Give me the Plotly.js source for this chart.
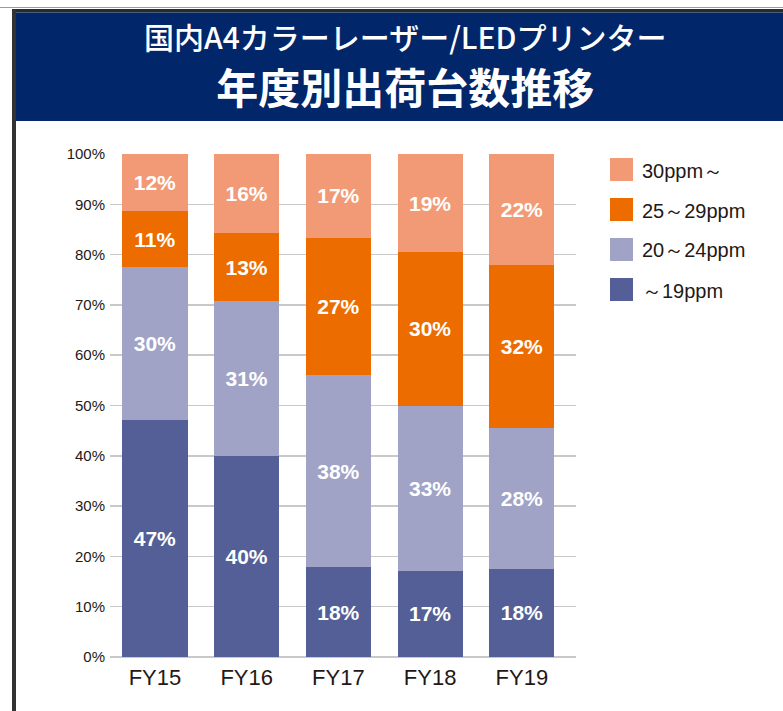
<!DOCTYPE html>
<html>
<head>
<meta charset="utf-8">
<script src="https://cdn.plot.ly/plotly-3.0.1.min.js"></script>
<style>
  html, body { margin: 0; padding: 0; background: #ffffff; }
  #chart { width: 783px; height: 711px; }
</style>
</head>
<body>
<div id="chart"></div>
<script>
// ---- data ----
const years = ["FY15", "FY16", "FY17", "FY18", "FY19"];
const seriesNames = ["～19ppm", "20～24ppm", "25～29ppm", "30ppm～"];
// segment shares (%)
const under19   = [47.1, 39.9, 17.8, 17.1, 17.5];
const r20to24   = [30.4, 30.9, 38.2, 32.9, 28.1];
const r25to29   = [11.2, 13.4, 27.4, 30.5, 32.3];
const over30    = [11.3, 15.8, 16.6, 19.5, 22.1];
// printed labels (%)
const under19Labels = [47, 40, 18, 17, 18];
const r20to24Labels = [30, 31, 38, 33, 28];
const r25to29Labels = [11, 13, 27, 30, 32];
const over30Labels  = [12, 16, 17, 19, 22];
const yTicks = [0, 10, 20, 30, 40, 50, 60, 70, 80, 90, 100];
const titleLine1 = "国内A4カラーレーザー/LEDプリンター";
const titleLine2 = "年度別出荷台数推移";

// ---- styles ----
const colors = ["#535F96", "#A0A3C6", "#EC6C00", "#F29A76"];
const W = 783, H = 711;
const L = 110, R = 576, T = 154, B = 657;
const px = v => (v - L) / (R - L);
const py = v => (B - v) / (B - T);
const latin = "Liberation Sans, Arial, Helvetica, sans-serif";
const jp = "Noto Sans CJK JP, sans-serif";

const values = [under19, r20to24, r25to29, over30];
const labels = [under19Labels, r20to24Labels, r25to29Labels, over30Labels];

const traces = values.map((vals, i) => ({
  type: "bar",
  name: seriesNames[i],
  x: years,
  y: vals,
  text: labels[i].map(v => v + "%"),
  textposition: "inside",
  insidetextanchor: "middle",
  textangle: 0,
  constraintext: "none",
  textfont: { family: latin, size: 21, color: "#ffffff", weight: "bold" },
  marker: { color: colors[i], line: { width: 0 } },
  hoverinfo: "skip",
  showlegend: false
}));

const shapes = [
  { type: "rect", xref: "paper", yref: "paper", x0: px(0), x1: px(W), y0: py(8), y1: py(7),
    fillcolor: "#9a9a9a", line: { width: 0 }, layer: "above" },
  { type: "rect", xref: "paper", yref: "paper", x0: px(12), x1: px(W), y0: py(12.5), y1: py(9),
    fillcolor: "#2b2b2b", line: { width: 0 }, layer: "above" },
  { type: "rect", xref: "paper", yref: "paper", x0: px(12), x1: px(16), y0: py(H), y1: py(9),
    fillcolor: "#333333", line: { width: 0 }, layer: "above" },
  { type: "rect", xref: "paper", yref: "paper", x0: px(16), x1: px(W), y0: py(121), y1: py(12.5),
    fillcolor: "#02266A", line: { width: 0 }, layer: "above" }
];

const annotations = [
  { xref: "paper", yref: "paper", x: px(405), y: py(65), xanchor: "center", yanchor: "middle",
    align: "center",
    text: '<span style="font-size:30px;font-weight:500">' + titleLine1 + '</span><br><b>' + titleLine2 + '</b>',
    showarrow: false,
    font: { family: jp, size: 42, color: "#ffffff" } }
];

// manual legend, top to bottom: 30ppm～, 25～29ppm, 20～24ppm, ～19ppm
const legendCenters = [169.5, 209.5, 249.5, 289.5];
for (let k = 0; k < 4; k++) {
  const si = 3 - k;
  const cy = legendCenters[k];
  shapes.push({ type: "rect", xref: "paper", yref: "paper",
    x0: px(610), x1: px(633), y0: py(cy + 11.5), y1: py(cy - 11.5),
    fillcolor: colors[si], line: { width: 0 } });
  annotations.push({ xref: "paper", yref: "paper", x: px(640), y: py(cy + 1),
    xanchor: "left", yanchor: "middle", text: seriesNames[si], showarrow: false,
    font: { family: latin, size: 20, color: "#231815" } });
}

const layout = {
  width: W, height: H,
  margin: { l: L, r: W - R, t: T, b: H - B, pad: 0 },
  paper_bgcolor: "#ffffff",
  plot_bgcolor: "#ffffff",
  barmode: "stack",
  bargap: 0.29,
  showlegend: false,
  xaxis: {
    type: "category",
    range: [-0.49, 4.59],
    showgrid: false, zeroline: false, showline: false,
    ticks: "",
    ticklabelstandoff: 5,
    tickfont: { family: latin, size: 22, color: "#231815" },
    fixedrange: true
  },
  yaxis: {
    range: [0, 100],
    tickvals: yTicks,
    ticktext: yTicks.map(v => v + "%"),
    showgrid: true, gridcolor: "#c9c9c9", gridwidth: 1.5,
    zeroline: true, zerolinecolor: "#c9c9c9", zerolinewidth: 1.5,
    showline: false, ticks: "",
    ticklabelstandoff: 4,
    tickfont: { family: latin, size: 15, color: "#231815" },
    fixedrange: true
  },
  shapes: shapes,
  annotations: annotations
};

Plotly.newPlot("chart", traces, layout, { displayModeBar: false, staticPlot: true });
</script>
</body>
</html>
